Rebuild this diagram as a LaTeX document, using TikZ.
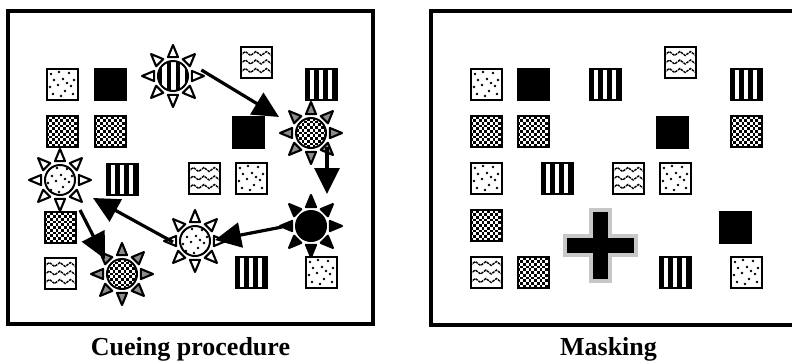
\documentclass[tikz,border=0pt]{standalone}
\usepackage{fontspec}
\setmainfont{Liberation Serif}
\usetikzlibrary{arrows.meta}

\newcommand\dotspeckle{\foreach \dx/\dy in {-11/10,-3/12,7/11,12/4,-8/4,1/5,9/-2,-12/-3,-4/-1,3/-7,11/-10,-9/-10,-1/-12,5/1}
  \fill[black] ([shift={(\dx pt,\dy pt)}]path picture bounding box.center) circle (1.4pt);}
\newcommand\checkfill{\foreach \i in {0,...,11} \foreach \j in {0,...,5}
  \fill[black] ([shift={({\i*2.75pt},{\j*5.5pt+mod(\i,2)*2.75pt})}]path picture bounding box.south west) rectangle ++(2.75pt,2.75pt);}
\newcommand\stripefill{\foreach \i in {0,2,4,6}
  \fill[black] ([shift={({\i*4.43pt},-2pt)}]path picture bounding box.south west) rectangle ++(4.43pt,36pt);}
\newcommand\wavefill{\foreach \dy in {-8.5,0,8.5}
  \draw[black, line width=1.4pt, dash pattern=on 2.6pt off 0.9pt] ([shift={(-16pt,\dy pt-2pt)}]path picture bounding box.center)
    -- ++(5.3pt,4pt) -- ++(5.3pt,-4pt) -- ++(5.3pt,4pt) -- ++(5.3pt,-4pt) -- ++(5.3pt,4pt) -- ++(5.3pt,-4pt);}
\newcommand\sunrays[2]{\foreach \a in {0,45,...,315}
  \filldraw[ray, fill=#2] ([shift={(\a:31)}]#1.center) -- ([shift={(\a+15:19.5)}]#1.center) -- ([shift={(\a-15:19.5)}]#1.center) -- cycle;}

\tikzset{
  tile/.style = {rectangle, draw=black, line width=2pt, minimum size=31pt, inner sep=0pt, fill=white},
  blacktile/.style = {tile, fill=black},
  dottile/.style = {tile, path picture={\dotspeckle}},
  checktile/.style = {tile, path picture={\checkfill}},
  stripetile/.style = {tile, path picture={\stripefill}},
  wavetile/.style = {tile, path picture={\wavefill}},
  sun/.style = {circle, draw=black, line width=2pt, minimum size=30pt, inner sep=0pt, fill=white},
  ray/.style = {draw=black, line width=2.1pt, line join=round},
  jump/.style = {line width=3.2pt, -{Triangle[length=26pt, width=25pt]}},
  frame/.style = {draw=black, line width=3.5pt},
  fixcross/.style = {fill=black, draw=black!22, line width=4pt},
  caption/.style = {font=\fontsize{26}{30}\selectfont\bfseries, anchor=base}
}

\begin{document}
\begin{tikzpicture}[x=1pt, y=-1pt]
\useasboundingbox (0,0) rectangle (792,360);
\draw[frame] (8,11) rectangle (373,324);
\draw[frame] (431,11) rectangle (800,325);

\node[dottile] (c1) at (62,84) {};
\node[blacktile] (c2) at (110,84) {};
\node[checktile] (c3) at (62,131) {};
\node[checktile] (c4) at (110,131) {};
\node[wavetile] (c5) at (256,62) {};
\node[stripetile] (c6) at (321,84) {};
\node[blacktile] (c7) at (248,132) {};
\node[stripetile] (c8) at (122,179) {};
\node[wavetile] (c9) at (204,178) {};
\node[dottile] (c10) at (251,178) {};
\node[checktile] (c11) at (60,227) {};
\node[wavetile] (c12) at (60,273) {};
\node[stripetile] (c13) at (251,272) {};
\node[dottile] (c14) at (321,272) {};

\node[sun, path picture={\stripefill}] (s1) at (173,76) {};
\sunrays{s1}{white}
\node[sun, path picture={\checkfill}] (s2) at (311,133) {};
\sunrays{s2}{black!45}
\node[sun, fill=black] (s3) at (311,226) {};
\sunrays{s3}{black}
\node[sun, path picture={\dotspeckle}] (s4) at (195,241) {};
\sunrays{s4}{white}
\node[sun, path picture={\dotspeckle}] (s5) at (60,180) {};
\sunrays{s5}{white}
\node[sun, path picture={\checkfill}] (s6) at (122,274) {};
\sunrays{s6}{black!45}

\draw[jump] ([shift={(-12:29)}]s1.center) -- ([shift={(206.6:35.8)}]s2.center);
\draw[jump] ([shift={(16,14)}]s2.center) -- ([shift={(16,-32)}]s3.center);
\draw[jump] ([shift={(-29,1)}]s3.center) -- ([shift={(20,-1)}]s4.center);
\draw[jump] ([shift={(-22,1)}]s4.center) -- ([shift={(33,18)}]s5.center);
\draw[jump] ([shift={(20,30)}]s5.center) -- ([shift={(-17,-15)}]s6.center);

\node[dottile] (m1) at (486,84) {};
\node[blacktile] (m2) at (533,84) {};
\node[stripetile] (m3) at (605,84) {};
\node[wavetile] (m4) at (680,62) {};
\node[stripetile] (m5) at (746,84) {};
\node[checktile] (m6) at (486,131) {};
\node[checktile] (m7) at (533,131) {};
\node[blacktile] (m8) at (672,132) {};
\node[checktile] (m9) at (746,131) {};
\node[dottile] (m10) at (486,178) {};
\node[stripetile] (m11) at (557,178) {};
\node[wavetile] (m12) at (628,178) {};
\node[dottile] (m13) at (675,178) {};
\node[checktile] (m14) at (486,225) {};
\node[blacktile] (m15) at (735,227) {};
\node[wavetile] (m16) at (486,272) {};
\node[checktile] (m17) at (533,272) {};
\node[stripetile] (m18) at (675,272) {};
\node[dottile] (m19) at (746,272) {};

\coordinate (fix) at (600,245);
\draw[fixcross] (fix) ++(-9.5,-35.5) -- ++(19,0) -- ++(0,26) -- ++(26,0) -- ++(0,19) -- ++(-26,0)
  -- ++(0,26) -- ++(-19,0) -- ++(0,-26) -- ++(-26,0) -- ++(0,-19) -- ++(26,0) -- cycle;

\node[caption] (cuelabel) at (190.5,355) {Cueing procedure};
\node[caption] (masklabel) at (608.5,355) {Masking};
\end{tikzpicture}
\end{document}
